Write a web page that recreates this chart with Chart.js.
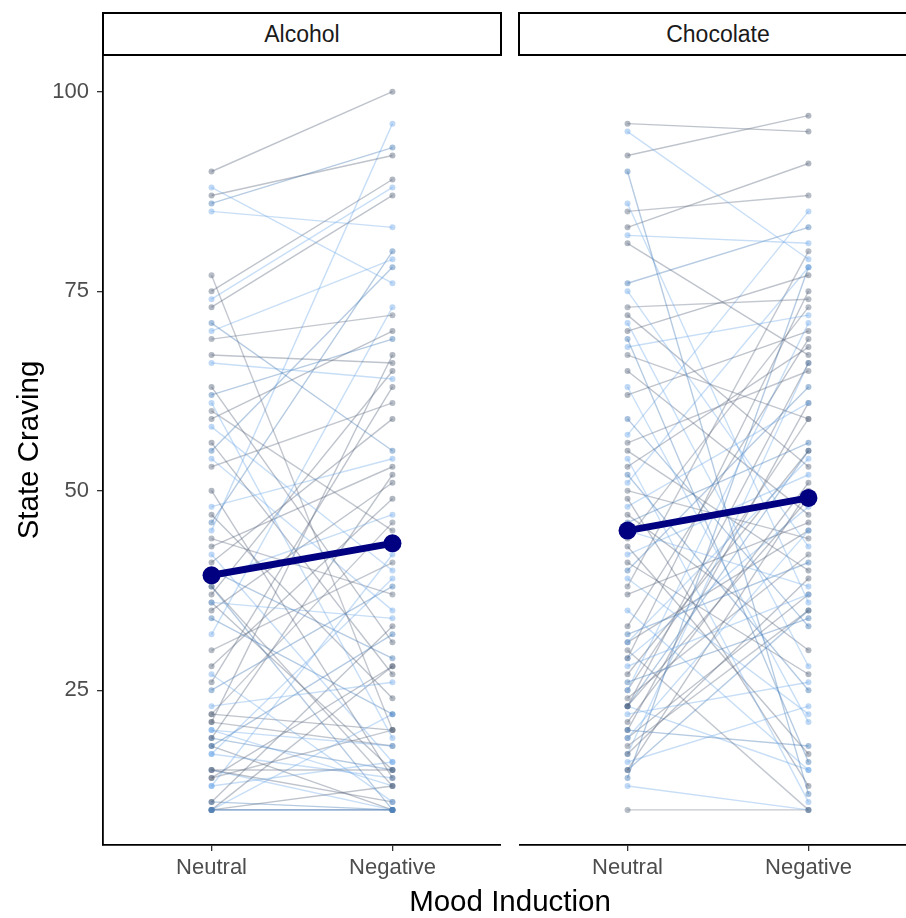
<!DOCTYPE html>
<html>
<head>
<meta charset="utf-8">
<script src="https://cdn.jsdelivr.net/npm/chart.js@4.4.1/dist/chart.umd.min.js"></script>
<style>
  html, body { margin: 0; padding: 0; background: #fff; }
  body { width: 906px; height: 918px; overflow: hidden; position: relative;
         font-family: 'Liberation Sans', Arial, sans-serif; }
  .strip { position: absolute; top: 12px; height: 44px; box-sizing: border-box;
           border: 2px solid #000; background: #fff; color: #1a1a1a;
           font-size: 23px; line-height: 40px; text-align: center; }
  .wrap { position: absolute; top: 55px; }
  #xTitle { position: absolute; top: 884px; left: 310px; width: 400px; text-align: center;
            font-size: 29.5px; color: #000; }
</style>
</head>
<body>
<div class="strip" style="left:102px; width:400px;">Alcohol</div>
<div class="strip" style="left:518px; width:400px;">Chocolate</div>
<div class="wrap" style="left:0px;"><canvas id="alcChart" width="501" height="863"></canvas></div>
<div class="wrap" style="left:519px;"><canvas id="chocChart" width="398" height="863"></canvas></div>
<div id="xTitle">Mood Induction</div>

<script>
// values, one entry per participant (neutral -> negative)
const moods = ["Neutral", "Negative"];
const yTicks = [25, 50, 75, 100];

const alcNeutral = [90, 88, 87, 86, 85, 77, 75, 74, 73, 71, 70, 69, 67, 66, 63, 62, 61, 60, 59, 58,
  56, 55, 54, 53, 50, 48, 47, 46, 45, 44, 43, 42, 41, 40, 39, 38, 37, 36, 35, 34,
  32, 30, 28, 27, 26, 25, 23, 22, 21, 20, 19, 18, 17, 15, 14, 13, 11, 10,
  10, 10, 10, 10, 10, 11, 13, 14, 15, 17, 18, 19, 20, 21, 22, 15, 36, 38];
const alcNegative = [100, 76, 92, 93, 83, 20, 89, 88, 87, 55, 79, 72, 66, 64, 31, 69, 19, 45, 70, 40,
  27, 78, 35, 61, 14, 54, 24, 80, 96, 37, 53, 16, 59, 29, 47, 13, 65, 34, 51, 22,
  73, 41, 49, 11, 63, 38, 26, 46, 67, 18, 52, 32, 39, 15, 28, 42, 33, 10,
  10, 10, 13, 22, 28, 10, 16, 20, 11, 14, 10, 15, 13, 18, 20, 10, 15, 10];

const chocNeutral = [96, 95, 92, 90, 86, 85, 83, 82, 81, 76, 75, 73, 72, 71, 70, 69, 68, 67, 65, 63,
  62, 59, 57, 56, 55, 54, 53, 52, 51, 50, 49, 48, 47, 46, 45, 44, 43, 42, 41, 40,
  39, 38, 37, 35, 33, 32, 31, 30, 29, 28, 27, 26, 25, 24, 23, 22, 21, 20, 19, 18,
  17, 16, 15, 14, 13, 10, 23, 23, 20, 15, 29, 25, 31, 17, 19, 23];
const chocNegative = [95, 79, 97, 12, 36, 87, 91, 81, 67, 83, 43, 74, 53, 28, 77, 16, 72, 59, 47, 21,
  70, 33, 85, 65, 40, 11, 68, 25, 78, 44, 13, 61, 30, 56, 38, 73, 17, 52, 27, 63,
  22, 80, 46, 15, 69, 41, 54, 10, 75, 37, 55, 34, 71, 42, 66, 26, 51, 18, 45, 35,
  39, 23, 50, 78, 10, 10, 49, 15, 61, 35, 48, 59, 45, 66, 37, 55];

const alcMean = [39.4, 43.4];
const chocMean = [45.0, 49.1];

Chart.defaults.font.family = "'Liberation Sans', Arial, sans-serif";
Chart.defaults.animation = false;

// grey / light blue / mid blue, like the original palette
const tones = [[84, 98, 120], [110, 168, 232], [84, 98, 120], [62, 118, 178], [110, 168, 232], [96, 108, 128]];
function rgba(c, a) { return `rgba(${c[0]},${c[1]},${c[2]},${a})`; }

function noPadding(scale) {
  scale.paddingTop = 0;
  scale.paddingBottom = 0;
  scale.paddingLeft = 0;
  scale.paddingRight = 0;
}

function buildChart(id, neutral, negative, mean, showY) {
  const datasets = [{
    data: mean.map((v, i) => ({ x: i + 1, y: v })),
    borderColor: "#000080",
    backgroundColor: "#000080",
    borderWidth: 7,
    pointRadius: 9,
    pointBorderWidth: 0,
    order: 0
  }];

  neutral.forEach((v, i) => {
    const tone = tones[(i * 7) % tones.length];
    datasets.push({
      data: [{ x: 1, y: v }, { x: 2, y: negative[i] }],
      borderColor: rgba(tone, 0.38),
      backgroundColor: rgba(tone, 0.45),
      borderWidth: 1.4,
      pointRadius: 3,
      pointBorderWidth: 0,
      order: 1
    });
  });

  return new Chart(document.getElementById(id), {
    type: "line",
    data: { datasets },
    options: {
      responsive: false,
      layout: { padding: 0, autoPadding: false },
      plugins: { legend: { display: false }, tooltip: { enabled: false } },
      elements: { line: { tension: 0 } },
      scales: {
        x: {
          type: "linear",
          min: 0.4,
          max: 2.6,
          afterBuildTicks: (scale) => { scale.ticks = moods.map((m, i) => ({ value: i + 1 })); },
          afterFit: (scale) => { scale.height = 73; noPadding(scale); },
          ticks: {
            callback: (value, index) => moods[index],
            color: "#4d4d4d",
            font: { size: 22 },
            padding: 4,
            maxRotation: 0
          },
          grid: { drawOnChartArea: false, drawTicks: true, tickLength: 6, color: "#333", lineWidth: 1.3 },
          border: { display: true, color: "#000", width: 1.8 }
        },
        y: {
          type: "linear",
          display: showY,
          min: 5.6,
          max: 104.6,
          afterBuildTicks: (scale) => { scale.ticks = yTicks.map(v => ({ value: v })); },
          afterFit: (scale) => { scale.width = showY ? 103 : 0; noPadding(scale); },
          ticks: { color: "#4d4d4d", font: { size: 22 }, padding: 8 },
          grid: { drawOnChartArea: false, drawTicks: true, tickLength: 6, color: "#333", lineWidth: 1.3 },
          border: { display: true, color: "#000", width: 1.8 },
          title: {
            display: true,
            text: "State Craving",
            color: "#000",
            font: { size: 29.5 },
            padding: { top: 12, bottom: 0 }
          }
        }
      }
    }
  });
}

buildChart("alcChart", alcNeutral, alcNegative, alcMean, true);
buildChart("chocChart", chocNeutral, chocNegative, chocMean, false);
</script>
</body>
</html>
